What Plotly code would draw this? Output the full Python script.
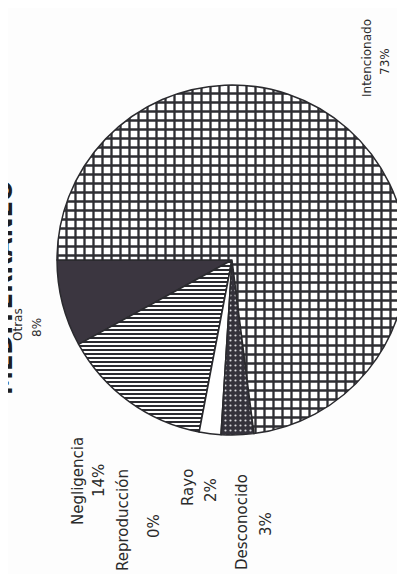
import plotly.graph_objects as go

# Data
labels = ["Otras", "Negligencia", "Reproducción", "Rayo", "Desconocido", "Intencionado"]
values = [8, 14, 0, 2, 3, 73]
pct_text = ["8%", "14%", "0%", "2%", "3%", "73%"]
title_text = "MEDITERRÁNEO"

W, H = 405, 574

fills = {
    "Otras":        dict(bg="#3b3640", fg="#3b3640", shape="", size=8, sol=0.3),
    "Negligencia":  dict(bg="#ffffff", fg="#2b2b30", shape="-", size=4, sol=0.5),
    "Reproducción": dict(bg="#ffffff", fg="#2b2b30", shape="", size=8, sol=0.3),
    "Rayo":         dict(bg="#ffffff", fg="#ffffff", shape="", size=8, sol=0.3),
    "Desconocido":  dict(bg="#34323b", fg="#d8d8dc", shape=".", size=5, sol=0.15),
    "Intencionado": dict(bg="#ffffff", fg="#2e2e33", shape="+", size=9, sol=0.45),
}

# plotly starts the first slice at `rotation` + its own width when counterclockwise
rotation = -90 - 360 * values[0] / sum(values)

fig = go.Figure(go.Pie(
    labels=labels,
    values=values,
    sort=False,
    direction="counterclockwise",
    rotation=rotation,
    textinfo="none",
    hoverinfo="skip",
    showlegend=False,
    marker=dict(
        colors=[fills[l]["bg"] for l in labels],
        line=dict(color="#2a2a2e", width=1.5),
        pattern=dict(
            shape=[fills[l]["shape"] for l in labels],
            fgcolor=[fills[l]["fg"] for l in labels],
            bgcolor=[fills[l]["bg"] for l in labels],
            size=[fills[l]["size"] for l in labels],
            solidity=[fills[l]["sol"] for l in labels],
            fillmode="replace",
        ),
    ),
    domain=dict(x=[49 / W, 399 / W], y=[1 - 427 / H, 1 - 77 / H]),
))

# label placement (pixel centres) for each label line
name_pos = {
    "Otras": (10, 317, 12),
    "Negligencia": (70, 473, 15),
    "Reproducción": (115, 512, 15),
    "Rayo": (180, 480, 15),
    "Desconocido": (234, 514, 15),
    "Intencionado": (359, 50, 12),
}
pct_pos = {
    "Otras": (29, 320, 12),
    "Negligencia": (91, 473, 15),
    "Reproducción": (146, 518, 15),
    "Rayo": (203, 482, 15),
    "Desconocido": (258, 516, 15),
    "Intencionado": (377, 54, 12),
}

anns = []
def px_ann(text, x, y, size, bold=False, color="#2a2a2a"):
    anns.append(dict(
        text=text, x=x / W, y=1 - y / H, xref="paper", yref="paper",
        showarrow=False, textangle=-90, xanchor="center", yanchor="middle",
        font=dict(family="DejaVu Sans", size=size,
                  color=color, weight="bold" if bold else "normal"),
    ))

for l, p in zip(labels, pct_text):
    x, y, s = name_pos[l]
    px_ann(l, x, y, s)
    x, y, s = pct_pos[l]
    px_ann(p, x, y, s)

px_ann(title_text, -5, 280, 24, bold=True, color="#1e1e22")

fig.update_layout(
    width=W, height=H,
    margin=dict(l=0, r=0, t=0, b=0),
    paper_bgcolor="#fdfdfd",
    plot_bgcolor="#fdfdfd",
    annotations=anns,
)

fig.write_html("out.html")
